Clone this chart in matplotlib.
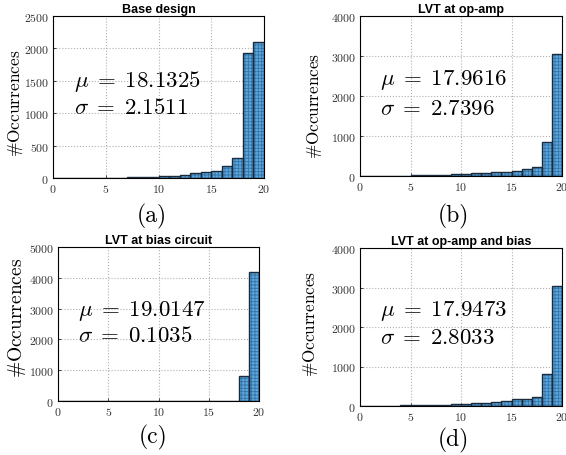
import matplotlib
matplotlib.use('Agg')
import matplotlib.pyplot as plt
import numpy as np

plt.rcParams['mathtext.fontset'] = 'cm'
plt.rcParams['axes.formatter.use_mathtext'] = True
plt.rcParams['hatch.linewidth'] = 0.6

# histogram bins (width 1, from 0 to 20)
bin_edges = np.arange(0, 21)

counts_a = [5, 3, 3, 5, 5, 5, 5, 8, 15, 15, 25, 25, 45, 70, 85, 115, 180, 308, 1935, 2098]
counts_b = [2, 5, 5, 5, 10, 25, 25, 33, 33, 50, 59, 75, 84, 100, 109, 134, 184, 226, 862, 3038]
counts_c = [0] * 18 + [810, 4190]
counts_d = [0, 0, 0, 0, 25, 25, 25, 25, 34, 50, 50, 67, 76, 92, 126, 168, 168, 235, 807, 3050]

titles = ['Base design', 'LVT at op-amp', 'LVT at bias circuit', 'LVT at op-amp and bias']
mus = ['18.1325', '17.9616', '19.0147', '17.9473']
sigmas = ['2.1511', '2.7396', '0.1035', '2.8033']
ymaxes = [2500, 4000, 5000, 4000]
ysteps = [500, 1000, 1000, 1000]
panel_tags = ['(a)', '(b)', '(c)', '(d)']

W, H = 566, 456
# axes boxes in pixels: left, right, top, bottom
boxes = [(53, 264, 17, 179), (360, 562, 17, 177), (58, 259, 248, 402), (360, 562, 249, 407)]
# y label: right edge in px, vertical centre in axes fraction, size
ylab_x = [25, 324, 28, 320]
ylab_y = [0.469, 0.444, 0.545, 0.525]
ylab_size = [12.5, 12.3, 14, 12.3]
tag_pos = [(152, 216), (453, 216), (153, 437), (453, 440)]
txt_y = [(0.60, 0.44), (0.606, 0.43), (0.59, 0.43), (0.61, 0.44)]

fig = plt.figure(figsize=(W / 100, H / 100), dpi=100)

all_counts = [counts_a, counts_b, counts_c, counts_d]
for i in range(4):
    l, r, t, b = boxes[i]
    ax = fig.add_axes([l / W, 1 - b / H, (r - l) / W, (b - t) / H])
    centers = bin_edges[:-1] + 0.5
    # hatched fill
    ax.bar(centers, all_counts[i], width=1.0, color='#5ba8de', edgecolor='#3673a6',
           linewidth=0, hatch='+++++', zorder=2)
    # outline
    ax.bar(centers, all_counts[i], width=1.0, fill=False, edgecolor='#1c2b3c',
           linewidth=1.0, zorder=3)
    ax.set_xlim(0, 20)
    ax.set_ylim(0, ymaxes[i])
    ax.set_xticks([0, 5, 10, 15, 20])
    ax.set_yticks(np.arange(0, ymaxes[i] + 1, ysteps[i]))
    for lab in ax.get_xticklabels() + ax.get_yticklabels():
        lab.set_fontfamily('cmr10')
        lab.set_fontsize(8.5)
        lab.set_color('#333333')
    ax.tick_params(direction='in', length=2.5, width=0.5, pad=3)
    ax.grid(True, linestyle=':', color='#b0b0b0', linewidth=0.8, zorder=0)
    ax.set_axisbelow(True)
    for sp in ax.spines.values():
        sp.set_linewidth(0.8)
    ax.set_title(titles[i], fontsize=9, fontweight='bold', family='Liberation Sans', pad=3)
    ax.set_ylabel(r'$\#\mathrm{Occurrences}$', fontsize=ylab_size[i])
    ax.yaxis.set_label_coords((ylab_x[i] - l) / (r - l), ylab_y[i])
    ax.text(0.10, txt_y[i][0], r'$\mu\;=\;%s$' % mus[i], transform=ax.transAxes,
            fontsize=16.5, va='center', ha='left', zorder=5)
    ax.text(0.10, txt_y[i][1], r'$\sigma\;=\;%s$' % sigmas[i], transform=ax.transAxes,
            fontsize=16.5, va='center', ha='left', zorder=5)
    fig.text(tag_pos[i][0] / W, 1 - tag_pos[i][1] / H, panel_tags[i], family='cmr10',
             fontsize=17, ha='center', va='center')

fig.savefig('out.png', dpi=100)
